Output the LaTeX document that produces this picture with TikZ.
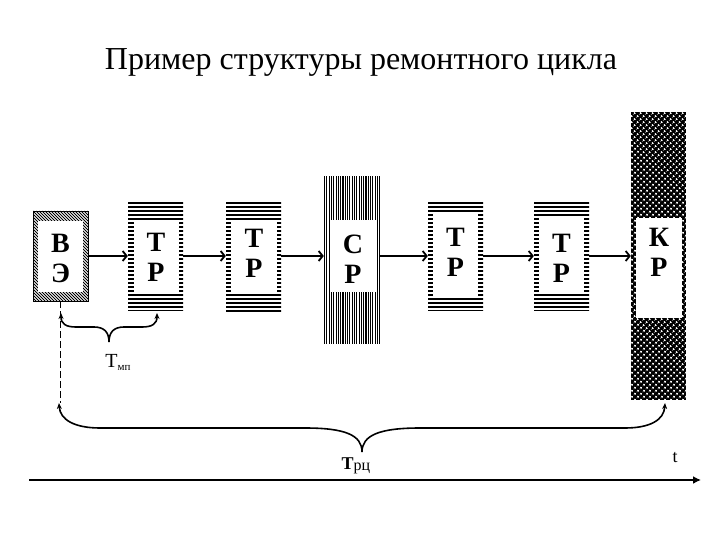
\documentclass[tikz,border=0pt]{standalone}
\usepackage{fontspec}
\setmainfont{Liberation Serif}
\usetikzlibrary{patterns.meta,arrows.meta}
\tikzset{
  box/.style={inner sep=0pt, minimum width=55pt},
  hole/.style={fill=white, inner sep=0pt},
  lbl/.style={font=\fontsize{28}{30}\selectfont\bfseries, align=center, inner sep=0pt},
  conn/.style={line width=1.8pt, -{Straight Barb[length=4pt,width=10pt]}},
  brace/.style={line width=1.6pt, {Stealth[length=6pt,width=5pt]}-{Stealth[length=6pt,width=5pt]}},
  hstripes/.style={path picture={\foreach \k in {0,...,28}
      \fill ([yshift=-\k*4pt]path picture bounding box.north west) rectangle ++(60pt,-2pt);}},
  vstripes/.style={path picture={\foreach \k in {0,...,25}
      \fill ([xshift=\k*2.3pt]path picture bounding box.north west) rectangle ++(1.1pt,-170pt);}},
  dhatch/.style={draw=black, line width=0.8pt, path picture={\foreach \k in {-36,...,22}
      \draw[line width=1pt] ([xshift=\k*3pt]path picture bounding box.north west) -- ++(100pt,-100pt);}},
  cdots/.style={preaction={fill=black}, pattern color=white, pattern={Dots[distance=4pt,radius=1.3pt,angle=45]}},
}
\begin{document}
\begin{tikzpicture}[x=1pt,y=-1pt]
\useasboundingbox (0,0) rectangle (720,540);
\node[font=\fontsize{32}{36}\selectfont] (title) at (361,62) {Пример структуры ремонтного цикла};

% boxes
\node[box, dhatch, minimum height=90pt] (b1) at (60.5,256) {};
\node[hole, minimum width=45pt, minimum height=71pt] (h1) at (60.5,256.5) {};
\node[lbl] (t1) at (60.5,258.5) {В\\Э};

\node[box, hstripes, minimum height=108pt] (b2) at (155.5,256) {};
\node[hole, minimum width=45pt, minimum height=72pt] (h2) at (156,258) {};
\node[lbl] (t2) at (156,257) {Т\\Р};

\node[box, hstripes, minimum height=109pt] (b3) at (253.5,256.5) {};
\node[hole, minimum width=46pt, minimum height=72pt] (h3) at (254,256) {};
\node[lbl] (t3) at (254,253) {Т\\Р};

\node[box, vstripes, minimum width=56pt, minimum height=167pt] (b4) at (352,259.5) {};
\node[hole, minimum width=46pt, minimum height=72pt] (h4) at (353,256) {};
\node[lbl] (t4) at (353,259) {С\\Р};

\node[box, hstripes, minimum height=108pt] (b5) at (455.5,256) {};
\node[hole, minimum width=45pt, minimum height=84pt] (h5) at (455.5,255) {};
\node[lbl] (t5) at (455.5,252.5) {Т\\Р};

\node[box, hstripes, minimum height=108pt] (b6) at (561.5,256) {};
\node[hole, minimum width=45pt, minimum height=74pt] (h6) at (561.5,255) {};
\node[lbl] (t6) at (561.5,258) {Т\\Р};

\node[box, cdots, minimum height=288pt] (b7) at (658.5,256) {};
\node[hole, minimum width=46pt, minimum height=100pt] (h7) at (659,268) {};
\node[lbl] (t7) at (659,252) {К\\Р};

% connectors
\draw[conn] (b1.east |- 0,256) -- (b2.west |- 0,256);
\draw[conn] (b2.east |- 0,256) -- (b3.west |- 0,256);
\draw[conn] (b3.east |- 0,256) -- (b4.west |- 0,256);
\draw[conn] (b4.east |- 0,256) -- (b5.west |- 0,256);
\draw[conn] (b5.east |- 0,256) -- (b6.west |- 0,256);
\draw[conn] (b6.east |- 0,256) -- (b7.west |- 0,256);

% small brace
\coordinate (m1) at (61,313);
\coordinate (m2) at (157,313);
\coordinate (mc) at (109,342);
\draw[brace] (m1) .. controls (61,324) and (66,327) .. (76,327) -- (94,327) .. controls (104,327) and (109,332) .. (mc) .. controls (109,332) and (114,327) .. (124,327) -- (142,327) .. controls (152,327) and (157,324) .. (m2);
\node[inner sep=0pt] (tmp) at (118,362) {\fontsize{20}{20}\selectfont Т\raisebox{-3pt}{\fontsize{11}{11}\selectfont мп}};

% dashed line
\coordinate (r1) at (59,403);
\coordinate (r2) at (665,403);
\coordinate (rc) at (362,452);
\draw[line width=0.6pt, dash pattern=on 7pt off 3pt] (b1.south) -- (b1.south |- r1);

% big brace
\draw[brace] (r1) .. controls (60,420) and (75,428) .. (100,428) -- (305,428) .. controls (345,428) and (362,435) .. (rc) .. controls (362,435) and (380,428) .. (420,428) -- (625,428) .. controls (650,428) and (664,420) .. (r2);
\node[inner sep=0pt] (trc) at (356,466) {\fontsize{18}{18}\selectfont\textbf{Т}\raisebox{-1pt}{\fontsize{16}{16}\selectfont рц}};

% time axis
\coordinate (a0) at (29,480);
\coordinate (a1) at (701,480);
\draw[line width=1.8pt, -{Latex[length=8pt,width=8pt]}] (a0) -- (a1);
\node[inner sep=0pt, font=\fontsize{18}{18}\selectfont] (tt) at (675,458) {t};
\end{tikzpicture}
\end{document}
